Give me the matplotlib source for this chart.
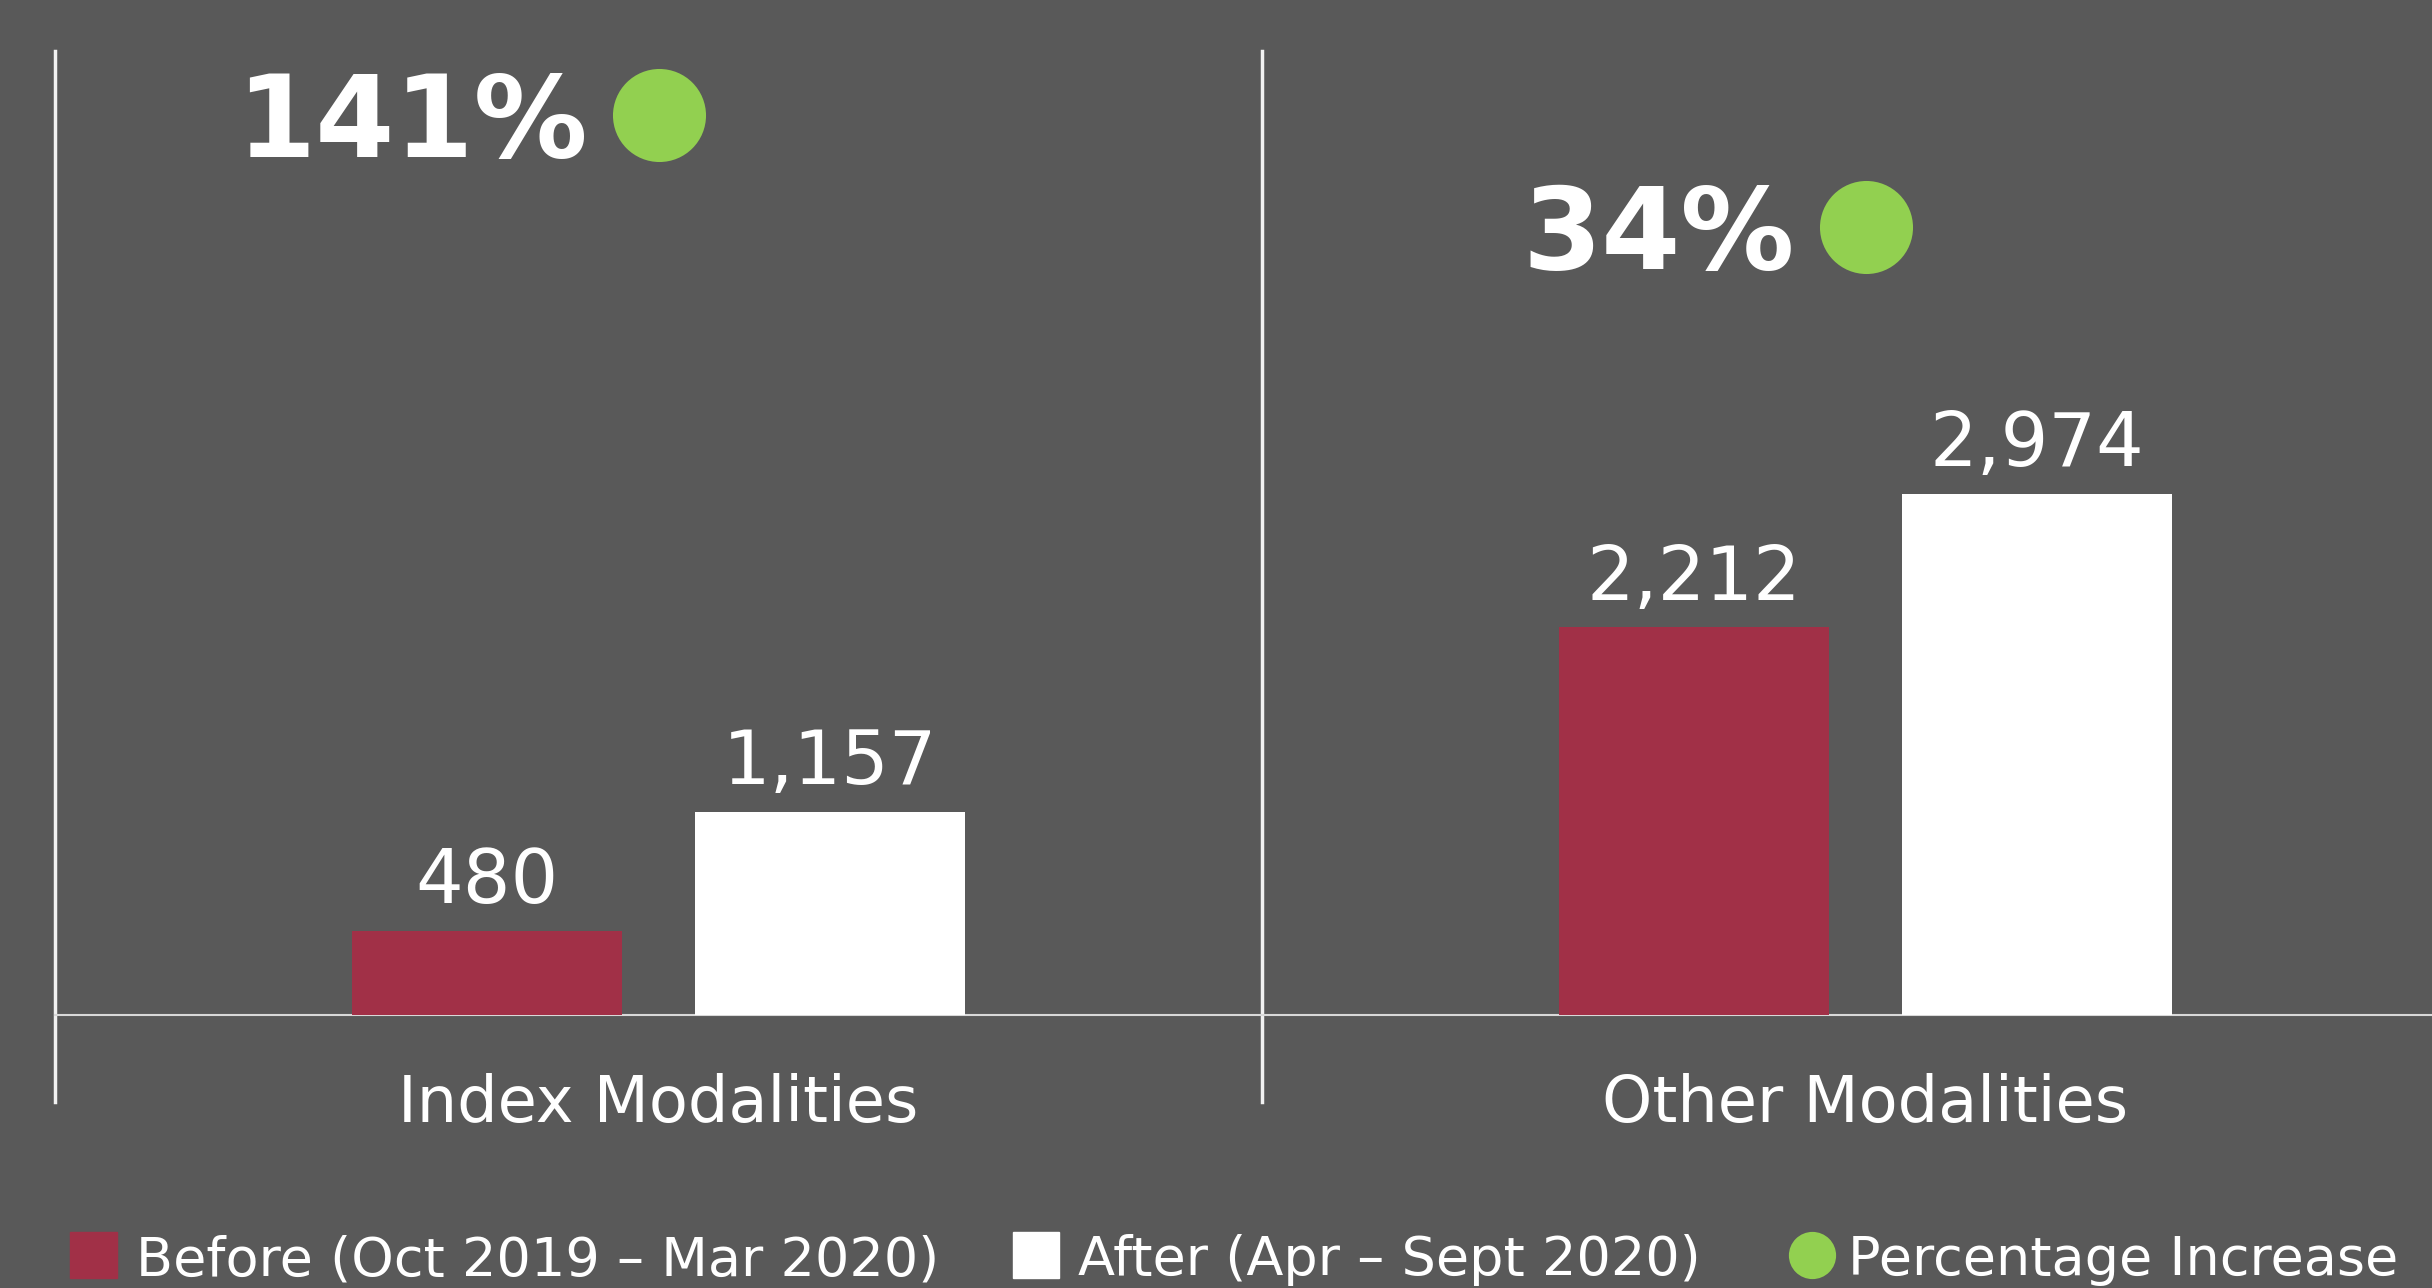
import numpy as np
import matplotlib.pyplot as plt
from matplotlib.patches import Rectangle

# data
categories = ["Index Modalities", "Other Modalities"]
before = [480, 2212]
after = [1157, 2974]
pct_increase = [141, 34]
series_labels = ["Before (Oct 2019 \u2013 Mar 2020)", "After (Apr \u2013 Sept 2020)", "Percentage Increase"]

# styling
BG = "#595959"
RED = "#A13047"
WHITE = "#FFFFFF"
GREEN = "#92D050"
AXIS = "#D9D9D9"

W, H = 2432, 1288
DPI = 100
plt.rcParams['font.family'] = ['DejaVu Sans']

fig = plt.figure(figsize=(W / DPI, H / DPI), dpi=DPI, facecolor=BG)

# main axes, pixel layout (right panel runs past the edge)
x0, x1 = 55, 2469
y_base, y_top = 1015, 51
ax = fig.add_axes([x0 / W, (H - y_base) / H, (x1 - x0) / W, (y_base - y_top) / H])
ax.set_facecolor(BG)
ax.set_xlim(-0.5, 1.5)
ax.set_ylim(0, 5500)

x = np.arange(len(categories))
width = 0.224
off = 0.142
ax.bar(x - off, before, width, color=RED, zorder=3)
ax.bar(x + off, after, width, color=WHITE, zorder=3)

# value labels
for xi, b, a in zip(x, before, after):
    for xx, v in ((xi - off, b), (xi + off, a)):
        ax.annotate(f"{v:,}", xy=(xx, v), xytext=(0, 20), textcoords="offset points",
                    ha="center", va="baseline", fontsize=54, color="white")

# category labels
for xi, c in zip(x, categories):
    ax.annotate(c, xy=(xi, 0), xytext=(0, -77), textcoords="offset points",
                ha="center", va="baseline", fontsize=46, color="white",
                annotation_clip=False)

# percentage increase markers
pct_y = [5136, 4497]
ax.plot(x, pct_y, linestyle="none", marker="o", markersize=67,
        color=GREEN, markeredgewidth=0, zorder=4, clip_on=False)
for xi, yi, p in zip(x, pct_y, pct_increase):
    ax.annotate(f"{p}%", xy=(xi, yi), xytext=(-51, -30.6), textcoords="offset points",
                ha="right", va="baseline", fontsize=82, fontweight="bold", color="white")

# category separators
for xv in (-0.5, 0.5):
    ax.axvline(xv, ymin=-0.09, ymax=1, color="#F2F2F2", lw=2.5, clip_on=False, zorder=2)

for s in ("top", "right", "left"):
    ax.spines[s].set_visible(False)
ax.spines["bottom"].set_color(AXIS)
ax.spines["bottom"].set_linewidth(1.5)
ax.set_xticks([])
ax.set_yticks([])

# legend drawn in pixel space
lg = fig.add_axes([0, 0, 1, 1])
lg.set_xlim(0, W)
lg.set_ylim(H, 0)
lg.axis("off")
lg.patch.set_alpha(0)
lg.add_patch(Rectangle((70, 1232), 47, 46, color=RED))
lg.add_patch(Rectangle((1013, 1232), 46, 46, color=WHITE))
lg.plot([1811.5], [1254.5], marker="o", markersize=34, color=GREEN, markeredgewidth=0)
for tx, lab in zip((136, 1078, 1848), series_labels):
    lg.text(tx, 1275, lab, ha="left", va="baseline", fontsize=39, color="white")

fig.savefig("out.png", dpi=DPI, facecolor=BG)
